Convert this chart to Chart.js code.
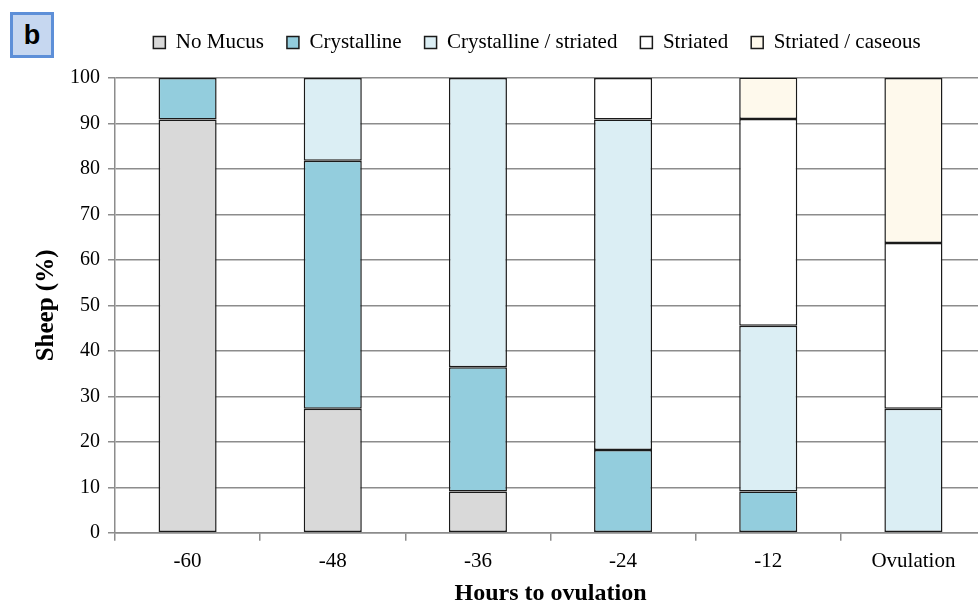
<!DOCTYPE html>
<html><head><meta charset="utf-8">
<script src="https://cdn.jsdelivr.net/npm/chart.js@4/dist/chart.umd.min.js"></script>
<style>
html,body{margin:0;padding:0;overflow:hidden;background:#fff;}
#wrap{position:relative;width:986px;height:610px;}
#lbl{position:absolute;left:10px;top:12px;width:38px;height:40px;background:#c6d7f0;border:3px solid #5d8fd8;font:bold 27px "Liberation Sans",Arial,sans-serif;line-height:40px;text-align:center;color:#000;}
</style></head><body>
<div id="wrap"><canvas id="c" width="986" height="610"></canvas><div id="lbl">b</div></div>
<script>
const categories = ["-60","-48","-36","-24","-12","Ovulation"];
const noMucus = [90.9, 27.3, 9.1, 0, 0, 0];
const crystalline = [9.1, 54.5, 27.3, 18.2, 9.1, 0];
const crystStriated = [0, 18.2, 63.6, 72.7, 36.4, 27.3];
const striated = [0, 0, 0, 9.1, 45.5, 36.4];
const striatedCaseous = [0, 0, 0, 0, 9.1, 36.3];
const yTicks = [0,10,20,30,40,50,60,70,80,90,100];

const mk = (label, data, color) => ({label, data, backgroundColor: color, borderColor: '#1a1a1a', borderWidth: 1.5, borderSkipped: false, categoryPercentage: 0.4, barPercentage: 1});
const serif = '"Liberation Serif","Times New Roman",serif';
const shiftLegend = {id:'shiftLegend', afterLayout(chart){ const l = chart.legend; l.left += 28; l.right += 28; l.top -= 15; l.bottom -= 15; }};
new Chart(document.getElementById('c'), {
  type: 'bar',
  data: {labels: categories, datasets: [
    mk('No Mucus', noMucus, '#d9d9d9'),
    mk('Crystalline', crystalline, '#93cddd'),
    mk('Crystalline / striated', crystStriated, '#dbeef4'),
    mk('Striated', striated, '#ffffff'),
    mk('Striated / caseous', striatedCaseous, '#fef9ec')
  ]},
  options: {
    responsive: false, animation: false,
    layout: {padding: {top: 24, left: 32, right: 0, bottom: 4}},
    plugins: {
      legend: {position: 'top', labels: {font: {family: serif, size: 21}, color: '#000', boxWidth: 12, boxHeight: 12, padding: 23, useBorderRadius: false}},
      tooltip: {enabled: false}
    },
    scales: {
      x: {stacked: true,
        grid: {display: true, drawOnChartArea: false, drawTicks: true, tickLength: 8, color: '#8c8c8c', lineWidth: 1.5, offset: true},
        border: {color: '#8c8c8c', width: 1.5},
        ticks: {font: {family: serif, size: 21}, color: '#000', padding: 8},
        title: {display: true, text: 'Hours to ovulation', font: {family: serif, size: 24, weight: 'bold', lineHeight: 1}, color: '#000', padding: {top: 0, bottom: 0}}
      },
      y: {stacked: true, min: 0, max: 100,
        afterBuildTicks: s => { s.ticks = yTicks.map(v => ({value: v})); },
        grid: {color: '#8c8c8c', lineWidth: 1.5, tickLength: 7},
        border: {color: '#8c8c8c', width: 1.5},
        ticks: {font: {family: serif, size: 20}, color: '#000', padding: 8},
        title: {display: true, text: 'Sheep (%)', font: {family: serif, size: 25, weight: 'bold'}, color: '#000', padding: {top: 0, bottom: 0}}
      }
    }
  },
  plugins: [shiftLegend]
});
</script>
</body></html>
